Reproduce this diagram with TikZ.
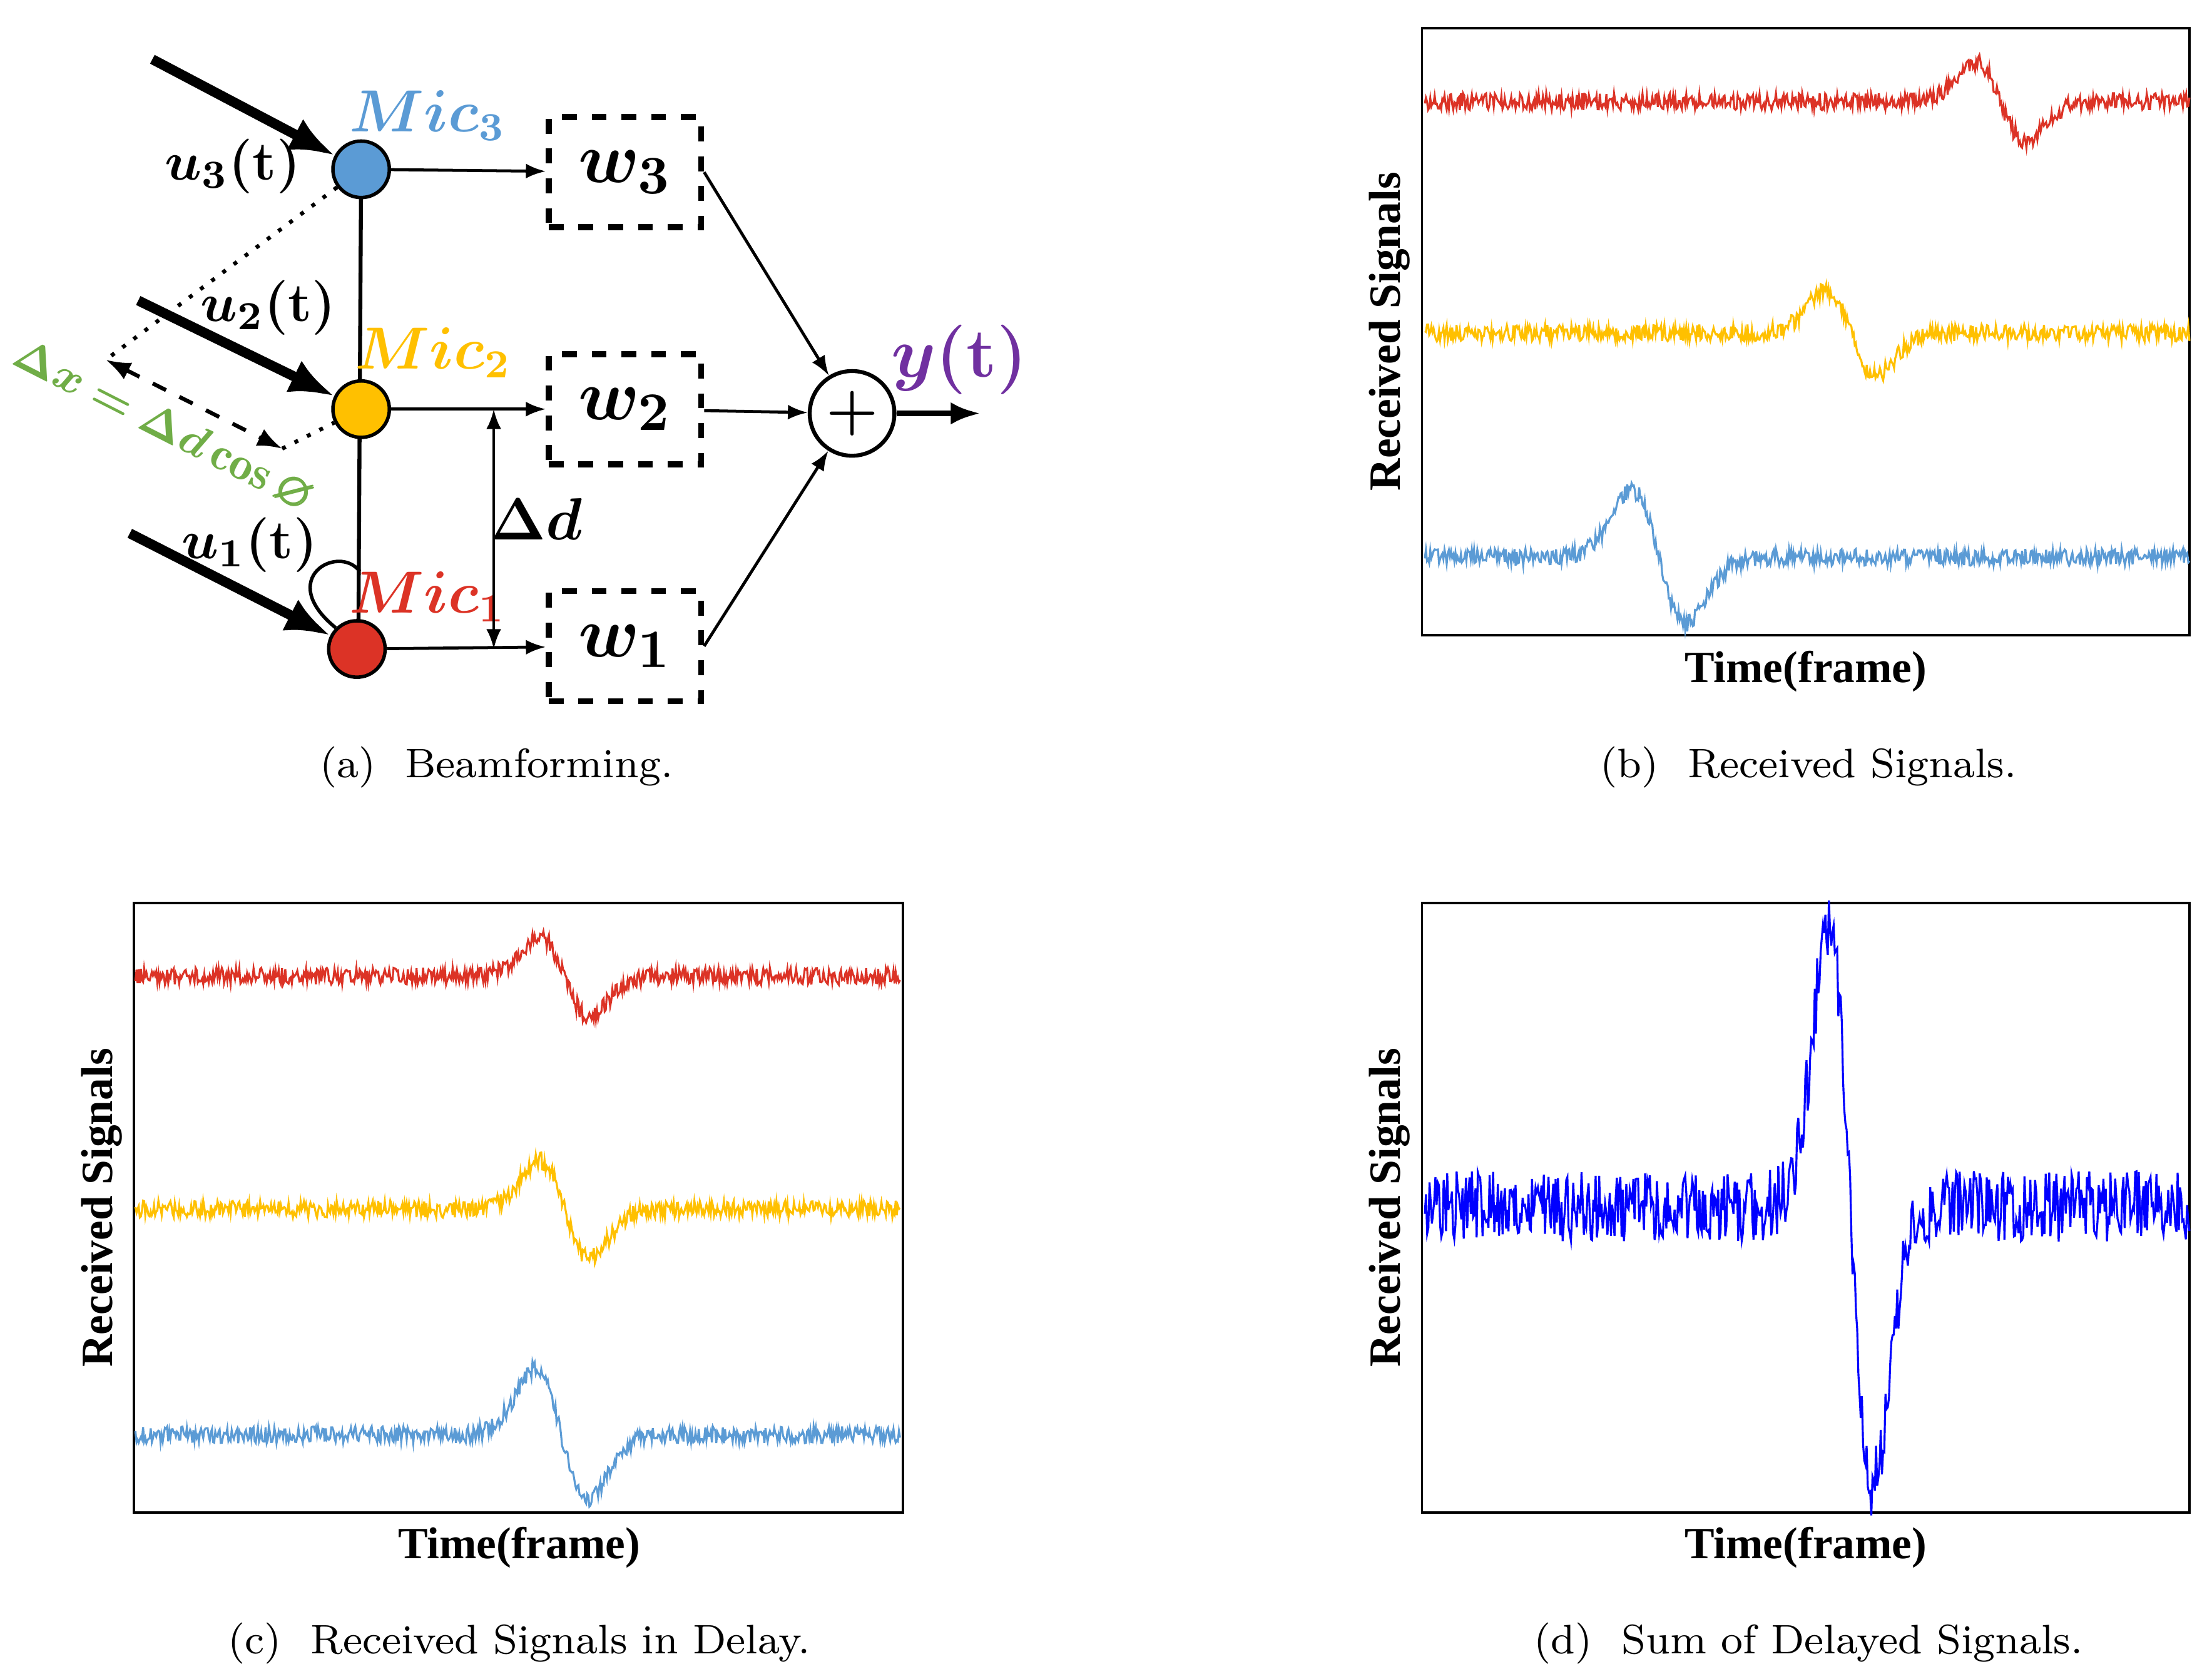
\documentclass[tikz,border=0pt]{standalone}
\usepackage{amsmath}
\usepackage{amssymb}
\usepackage{bm}
\usepackage{fontspec}
\newfontfamily\timesfont{Liberation Serif}
\usetikzlibrary{arrows.meta}
\definecolor{micblue}{HTML}{5B9BD5}
\definecolor{micyellow}{HTML}{FFC000}
\definecolor{micred}{HTML}{DC3326}
\definecolor{labgreen}{HTML}{70AD47}
\definecolor{labpurple}{HTML}{7030A0}
\newcommand{\SigBump}[3]{#2*((\x-#1)/#3)*exp(-min(((\x-#1)/#3)^2,20))}
\tikzset{
  mic/.style={circle, draw, line width=0.7pt, minimum size=0.4cm, inner sep=0pt},
  wbox/.style={draw, dashed, line width=1.2pt, minimum width=1.08cm, minimum height=0.78cm, font=\fontsize{15}{16}\selectfont},
  feed/.style={line width=0.6pt, -{Latex[length=4pt]}},
  incoming/.style={line width=2pt, -{Latex[length=9pt,width=7pt]}},
  axbox/.style={draw, line width=0.5pt},
  sig/.style={line width=0.4pt},
  ylab/.style={rotate=90, font=\timesfont\bfseries\fontsize{9}{10}\selectfont},
  xlab/.style={font=\timesfont\bfseries\fontsize{9}{10}\selectfont},
  caption/.style={font=\fontsize{8.3}{9}\selectfont}
}
\begin{document}
\begin{tikzpicture}[x=0.01cm, y=-0.01cm]
\useasboundingbox (0,0) rectangle (1568,1190);

% (a) beamforming
\draw[line width=0.8pt] (256,120) -- (254,460);
\node[mic, fill=micblue] (mic3) at (256,120) {};
\node[mic, fill=micyellow] (mic2) at (256,290) {};
\node[mic, fill=micred] (mic1) at (253,460) {};
\node[text=micblue, font=\fontsize{12}{13}\selectfont] (lmic3) at (303,82) {$\bm{Mic_3}$};
\node[text=micyellow, font=\fontsize{12}{13}\selectfont] (lmic2) at (307,250) {$\bm{Mic_2}$};
\node[text=micred, font=\fontsize{12}{13}\selectfont] (lmic1) at (303,423) {$\bm{Mic_1}$};

\node[wbox] (w3) at (443,122) {$\bm{w_3}$};
\node[wbox] (w2) at (443,290) {$\bm{w_2}$};
\node[wbox] (w1) at (443,458) {$\bm{w_1}$};
\node[circle, draw, line width=0.8pt, minimum size=0.6cm, inner sep=0pt, font=\fontsize{12}{12}\selectfont] (sum) at (604,293) {$\bm{+}$};
\coordinate (yend) at (695,293);
\node[text=labpurple, font=\fontsize{14}{15}\selectfont] (ylabel) at (680,255) {$\bm{y}\textbf{(t)}$};

\draw[feed] (mic3) -- (w3);
\draw[feed] (mic2) -- (w2);
\draw[feed] (mic1) -- (w1);
\draw[feed] (w3.east) -- (sum);
\draw[feed] (w2) -- (sum);
\draw[feed] (w1.east) -- (sum);
\draw[line width=1.2pt, -{Latex[length=6pt]}] (sum) -- (yend);

\coordinate (src3) at (108,42);
\coordinate (src2) at (98,213);
\coordinate (src1) at (92,378);
\draw[incoming] (src3) -- (mic3);
\draw[incoming] (src2) -- (mic2);
\draw[incoming] (src1) -- (mic1);
\node[font=\fontsize{11}{12}\selectfont] (u3) at (165,118) {$\bm{u_3}\textbf{(t)}$};
\node[font=\fontsize{11}{12}\selectfont] (u2) at (190,218) {$\bm{u_2}\textbf{(t)}$};
\node[font=\fontsize{11}{12}\selectfont] (u1) at (177,386) {$\bm{u_1}\textbf{(t)}$};

\coordinate (px) at (75,255);
\coordinate (qx) at (200,318);
\draw[dotted, line width=0.8pt] (mic3) -- (px);
\draw[dotted, line width=0.8pt] (qx) -- (mic2);
\draw[dashed, line width=0.8pt, {Latex[length=5pt]}-{Latex[length=5pt]}] (px) -- (qx);
\node[text=labgreen, rotate=-27, font=\fontsize{9.5}{10}\selectfont] (dxlabel) at (116,302) {$\bm{\Delta x = \Delta d\cos\varnothing}$};

\coordinate (dtop) at (350,290);
\coordinate (dbot) at (350,460);
\draw[line width=0.6pt, {Latex[length=4pt]}-{Latex[length=4pt]}] (dtop) -- (dbot);
\node[font=\fontsize{12}{13}\selectfont] (dd) at (380,368) {$\bm{\Delta d}$};
\draw[line width=0.7pt] (mic1.north west) .. controls (195,410) and (240,385) .. (255,405);

\node[caption] (capa) at (352,544) {(a)\ \ Beamforming.};

% (b) received signals
\draw[axbox] (1008,20) rectangle (1552,450);
\pgfmathsetseed{7}
\draw[sig, micred] plot[samples=700, domain=1010:1552] (\x, {72 + 6*rand + \SigBump{1418}{65}{25}});
\draw[sig, micyellow] plot[samples=700, domain=1010:1552] (\x, {236 + 6*rand + \SigBump{1312}{70}{25}});
\draw[sig, micblue] plot[samples=700, domain=1010:1552] (\x, {395 + 6*rand + \SigBump{1176}{110}{27}});
\node[ylab] (yb) at (985,235) {Received Signals};
\node[xlab] (xb) at (1280,476) {Time(frame)};
\node[caption] (capb) at (1282,544) {(b)\ \ Received Signals.};

% (c) received signals in delay
\draw[axbox] (95,640) rectangle (640,1072);
\draw[sig, micred] plot[samples=700, domain=96:638] (\x, {692 + 6*rand + \SigBump{400}{65}{25}});
\draw[sig, micyellow] plot[samples=700, domain=96:638] (\x, {857 + 6*rand + \SigBump{400}{80}{25}});
\draw[sig, micblue] plot[samples=700, domain=96:638] (\x, {1017 + 6*rand + \SigBump{398}{110}{26}});
\node[ylab] (yc) at (72,856) {Received Signals};
\node[xlab] (xc) at (368,1097) {Time(frame)};
\node[caption] (capc) at (368,1165) {(c)\ \ Received Signals in Delay.};

% (d) sum of delayed signals
\draw[axbox] (1008,640) rectangle (1552,1072);
\draw[sig, blue] plot[samples=650, domain=1010:1552] (\x, {855 + 25*rand + \SigBump{1312}{460}{22}});
\node[ylab] (yd) at (985,856) {Received Signals};
\node[xlab] (xd) at (1280,1097) {Time(frame)};
\node[caption] (capd) at (1282,1165) {(d)\ \ Sum of Delayed Signals.};
\end{tikzpicture}
\end{document}
